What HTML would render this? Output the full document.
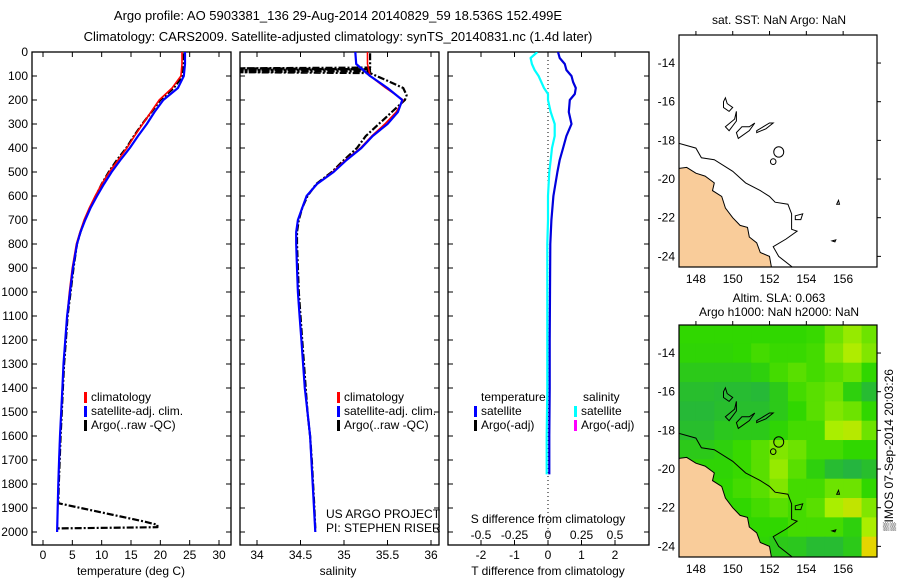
<!DOCTYPE html>
<html><head><meta charset="utf-8"><style>
html,body{margin:0;padding:0;background:#fff;width:900px;height:580px;overflow:hidden}
svg{display:block;font-family:"Liberation Sans",sans-serif;font-size:12px}
</style></head><body>
<svg id="c" width="900" height="580" xmlns="http://www.w3.org/2000/svg">
<text x="338" y="20" text-anchor="middle" font-size="13">Argo profile: AO 5903381_136 29-Aug-2014 20140829_59 18.536S 152.499E</text>
<text x="338" y="41" text-anchor="middle" font-size="13">Climatology: CARS2009. Satellite-adjusted climatology: synTS_20140831.nc (1.4d later)</text>
<text x="779" y="24" text-anchor="middle">sat. SST: NaN Argo: NaN</text>
<text x="779" y="302" text-anchor="middle">Altim. SLA: 0.063</text>
<text x="779" y="316" text-anchor="middle">Argo h1000: NaN h2000: NaN</text>
<text transform="translate(893,450) rotate(-90)" text-anchor="middle">▒IMOS 07-Sep-2014 20:03:26</text>
</svg>
<script>
// ---- data ----
const depth = [0,50,100,150,200,250,300,350,400,450,500,550,600,650,700,750,800,900,1000,1100,1200,1300,1400,1500,1600,1700,1800,1900,2000];
const tSat  = [24.2,24.2,24.0,23.0,20.5,19.0,17.7,16.2,14.8,13.2,11.7,10.4,9.2,8.1,7.2,6.4,5.8,5.1,4.6,4.1,3.8,3.5,3.3,3.1,2.9,2.75,2.6,2.5,2.4];
const tClim = [23.7,23.7,23.5,22.0,19.8,18.4,17.0,15.6,14.3,12.8,11.3,10.0,8.9,7.9,7.0,6.3,5.7,5.0,4.5,4.1,3.8,3.5,3.3,3.1,2.9,2.75,2.6,2.5,2.4];
const argoD = [5,50,100,150,200,250,300,350,400,450,500,550,600,650,700,750,800,900,1000,1100,1200,1300,1400,1500,1600,1700,1800,1880,1955,1970,1980,1985];
const tArgo = [24.0,24.0,23.8,22.3,20.0,18.5,16.9,15.5,14.2,12.6,11.2,10.0,9.0,8.0,7.1,6.4,5.8,5.2,4.7,4.2,3.9,3.6,3.4,3.2,3.0,2.85,2.7,2.6,17.0,19.5,19.5,2.5];
const sSat  = [35.13,35.14,35.3,35.5,35.67,35.62,35.5,35.33,35.2,35.03,34.88,34.69,34.57,34.52,34.47,34.45,34.45,34.46,34.47,34.49,34.51,34.53,34.55,34.58,34.61,34.625,34.64,34.655,34.67];
const sClim = [35.27,35.27,35.3,35.48,35.68,35.6,35.47,35.32,35.19,35.02,34.87,34.69,34.57,34.52,34.47,34.45,34.45,34.46,34.47,34.49,34.51,34.53,34.55,34.58,34.61,34.625,34.64,34.655,34.67];
const sArgoD = [5,65,68,72,76,80,84,88,120,150,180,200,250,300,350,400,450,500,550,600,650,700,750,800,900,1000,1100,1200,1300,1400,1500,1600,1700,1800,1900,1985];
const sArgo  = [35.3,35.3,33.8,35.3,33.8,35.3,33.8,35.3,35.5,35.68,35.72,35.7,35.55,35.4,35.25,35.15,35.0,34.86,34.68,34.58,34.52,34.48,34.46,34.46,34.47,34.48,34.5,34.52,34.54,34.56,34.58,34.61,34.63,34.645,34.66,34.67];
const diffD = [0,25,50,75,100,125,150,175,200,250,300,350,400,450,500,600,700,800,1000,1200,1400,1600,1760];
const dT = [0.3,0.35,0.5,0.55,0.7,0.75,0.83,0.8,0.65,0.62,0.7,0.55,0.45,0.35,0.28,0.16,0.1,0.07,0.06,0.05,0.05,0.04,0.04];
const dS = [-0.08,-0.13,-0.12,-0.1,-0.07,-0.05,-0.03,0,0,0.02,0.05,0.05,0.03,0.02,0.01,0,0,-0.005,-0.005,-0.005,-0.005,-0.01,-0.01];
const depthTicks = [0,100,200,300,400,500,600,700,800,900,1000,1100,1200,1300,1400,1500,1600,1700,1800,1900,2000];
const tTicks = [0,5,10,15,20,25,30];
const sTicks = [34,34.5,35,35.5,36];
const sTickLabels = ['34','34.5','35','35.5','36'];
const dTTicks = [-2,-1,0,1,2];
const dSTicks = [-0.5,-0.25,0,0.25,0.5];
const dSTickLabels = ['-0.5','-0.25','0','0.25','0.5'];
const latTicks = [-14,-16,-18,-20,-22,-24];
const lonTicks = [148,150,152,154,156];
// SLA heatmap: rows lat -12.5..-24.5 (1 deg), cols lon 147..158 (1 deg); 0=dark green, 1=yellow
const sla = [
[0.4,0.4,0.4,0.4,0.4,0.4,0.4,0.42,0.55,0.65,0.55],
[0.38,0.38,0.38,0.4,0.45,0.42,0.42,0.45,0.6,0.72,0.6],
[0.3,0.3,0.3,0.3,0.35,0.45,0.5,0.45,0.5,0.55,0.4],
[0.22,0.22,0.2,0.2,0.18,0.3,0.45,0.5,0.55,0.35,0.2],
[0.18,0.18,0.22,0.22,0.22,0.3,0.4,0.5,0.6,0.55,0.4],
[0.22,0.22,0.28,0.3,0.3,0.38,0.45,0.45,0.7,0.75,0.55],
[0.3,0.3,0.35,0.42,0.5,0.6,0.55,0.45,0.45,0.4,0.4],
[0.38,0.38,0.38,0.42,0.5,0.65,0.5,0.35,0.2,0.15,0.22],
[0.4,0.4,0.4,0.45,0.5,0.6,0.45,0.45,0.55,0.55,0.4],
[0.4,0.4,0.4,0.4,0.45,0.5,0.45,0.5,0.7,0.8,0.6],
[0.4,0.4,0.4,0.4,0.4,0.4,0.45,0.45,0.45,0.35,0.7],
[0.4,0.4,0.4,0.4,0.38,0.3,0.28,0.2,0.2,0.3,0.95]];
const land = [[147.08,-19.45],[147.5,-19.4],[148,-19.7],[148.5,-19.85],[149,-20.2],[148.9,-20.6],[149.4,-20.9],[149.6,-21.5],[150,-22],[150.4,-22.4],[150.8,-22.5],[150.9,-23],[151.3,-23.3],[151.5,-23.8],[152,-24],[152.1,-24.55],[147.08,-24.55]];
const shelf = [[147.08,-18.15],[148,-18.4],[148.3,-18.9],[149,-19],[150,-19.6],[150.7,-20.2],[151.5,-20.6],[152,-20.9],[152.3,-21.2],[153,-21.3],[153.2,-21.8],[153.2,-22.6],[153.5,-22.7],[152.9,-23.1],[152.2,-23.5],[152.5,-24],[153.3,-24.6]];
const reefs = [
[[150.2,-17.6],[150.5,-17.3],[150.9,-17.3],[151.2,-17.1],[150.9,-17.5],[150.3,-17.9]],
[[151.3,-17.5],[152,-17.1],[152.2,-17.1],[151.8,-17.4],[151.3,-17.6]],
[[149.6,-17.3],[150.1,-16.9],[150.2,-16.5],[150.2,-17],[149.8,-17.5]],
[[149.5,-16],[149.6,-15.8],[149.7,-16.1],[150,-16.3],[149.8,-16.5],[149.5,-16.3]],
[[153.4,-21.9],[153.8,-21.8],[153.7,-22.1],[153.4,-22.1]],
[[155.65,-21.3],[155.75,-21.1],[155.8,-21.3]],
[[155.4,-23.2],[155.6,-23.15],[155.55,-23.25]]];
const cays = [[152.5,-18.6,0.27],[152.2,-19.1,0.15]];

// ---- helpers ----
const NS='http://www.w3.org/2000/svg';
const svg=document.getElementById('c');
function mk(tag,attrs,parent){const e=document.createElementNS(NS,tag);for(const k in attrs)e.setAttribute(k,attrs[k]);(parent||svg).appendChild(e);return e;}
const Y0=52,Y1=545;
const yD=d=>Y0+d*0.24;
const xT=v=>43+v*5.867;
const xS=v=>257+(v-34)*87;
const xDT=v=>548+v*33.5;
const xDS=v=>548+v*134;

const defs=mk('defs',{});
[['c1',32,231],['c2',240,439],['c3',448,649]].forEach(([id,a,b])=>{const cp=mk('clipPath',{id},defs);mk('rect',{x:a,y:Y0,width:b-a,height:Y1-Y0},cp);});

function frame(x0,x1,name){
  const r=mk('rect',{x:x0,y:Y0,width:x1-x0,height:Y1-Y0,fill:'none',stroke:'#000','stroke-width':1.3});
  
  
  depthTicks.forEach(d=>{const y=yD(d);mk('line',{x1:x0,x2:x0+5,y1:y,y2:y,stroke:'#000'});mk('line',{x1:x1,x2:x1-5,y1:y,y2:y,stroke:'#000'});});
}
function xticks(vals,labels,fx,y0,y1,ly,name){
  vals.forEach((v,i)=>{const x=fx(v);
    mk('line',{x1:x,x2:x,y1:Y0,y2:Y0+5,stroke:'#000'});mk('line',{x1:x,x2:x,y1:Y1,y2:Y1-5,stroke:'#000'});
    const t=mk('text',{x:x,y:ly,'text-anchor':'middle'});t.textContent=labels[i];
    
    });
}
function line(xs,ds,fx,color,w,clip,name,dash){
  const pts=xs.map((v,i)=>fx(v).toFixed(1)+','+yD(ds[i]).toFixed(1)).join(' ');
  const a={points:pts,fill:'none',stroke:color,'stroke-width':w,'clip-path':'url(#'+clip+')','stroke-linejoin':'round'};
  if(dash)a['stroke-dasharray']=dash;
  const p=mk('polyline',a);
  
  
}
function txt(x,y,s,name,anchor){const t=mk('text',{x,y,'text-anchor':anchor||'start'});t.textContent=s;
  
  return t;}
function legend(x,y,color,label,name){mk('rect',{x:x,y:y-9,width:3,height:11,fill:color});txt(x+7,y,label,name);}

depthTicks.forEach(d=>{txt(28,yD(d)+4,String(d),'depth-tick-label','end');});

frame(32,231,'temperature-panel');
xticks(tTicks,tTicks.map(String),xT,0,0,559,'temperature-tick-label');
txt(131,575,'temperature (deg C)','temperature-axis-title','middle');
line(tArgo,argoD,xT,'#000',2.2,'c1','argo-temperature-line','7,2,2,2');
line(tClim,depth,xT,'#f00',1.6,'c1','climatology-temperature-line');
line(tSat,depth,xT,'#00f',2.2,'c1','satellite-temperature-line');
legend(84,401,'#f00','climatology','legend-climatology');
legend(84,415,'#00f','satellite-adj. clim.','legend-satellite-adj');
legend(84,429,'#000','Argo(..raw -QC)','legend-argo');

frame(240,439,'salinity-panel');
xticks(sTicks,sTickLabels,xS,0,0,559,'salinity-tick-label');
txt(338,575,'salinity','salinity-axis-title','middle');
line(sArgo,sArgoD,xS,'#000',2.2,'c2','argo-salinity-line','7,2,2,2');
line(sClim,depth,xS,'#f00',1.6,'c2','climatology-salinity-line');
line(sSat,depth,xS,'#00f',2.2,'c2','satellite-salinity-line');
legend(337,401,'#f00','climatology','legend-climatology');
legend(337,415,'#00f','satellite-adj. clim.','legend-satellite-adj');
legend(337,429,'#000','Argo(..raw -QC)','legend-argo');
txt(326,518,'US ARGO PROJECT','project-credit');
txt(326,532,'PI: STEPHEN RISER','pi-credit');

frame(448,649,'difference-panel');
mk('line',{x1:548,x2:548,y1:Y0,y2:Y1,stroke:'#000','stroke-dasharray':'1,3'});
dTTicks.forEach(v=>{const x=xDT(v);mk('line',{x1:x,x2:x,y1:Y0,y2:Y0+5,stroke:'#000'});mk('line',{x1:x,x2:x,y1:Y1,y2:Y1-5,stroke:'#000'});txt(x,559,String(v),'t-diff-tick-label','middle');});
dSTicks.forEach((v,i)=>{txt(xDS(v),539,dSTickLabels[i],'s-diff-tick-label','middle');});
txt(548,523,'S difference from climatology','s-diff-axis-title','middle');
txt(548,575,'T difference from climatology','t-diff-axis-title','middle');
line(dS,diffD,xDS,'#0ff',2.2,'c3','salinity-satellite-diff-line');
line(dT,diffD,xDT,'#00d',2.2,'c3','temperature-satellite-diff-line');
txt(481,401,'temperature','legend-temperature-header');
txt(583,401,'salinity','legend-salinity-header');
legend(474,415,'#00f','satellite','legend-t-satellite');
legend(474,429,'#000','Argo(-adj)','legend-t-argo');
legend(574,415,'#0ff','satellite','legend-s-satellite');
legend(574,429,'#f0f','Argo(-adj)','legend-s-argo');

const MX0=679,MX1=877,LON0=147.08,LON1=157.84,LAT0=-12.55,LAT1=-24.55;
function makeMap(y0,y1,heat,name){
  const fx=l=>MX0+(l-LON0)*(MX1-MX0)/(LON1-LON0);
  const fy=l=>y0+(LAT0-l)*(y1-y0)/(LAT0-LAT1);
  const id='m'+y0;const cp=mk('clipPath',{id},defs);mk('rect',{x:MX0,y:y0,width:MX1-MX0,height:y1-y0},cp);
  const g=mk('g',{'clip-path':'url(#'+id+')'});
  
  
  if(heat){
    const stops=[[0,[30,160,100]],[0.4,[48,215,0]],[0.7,[170,238,0]],[1,[240,208,0]]];
    const col=v=>{for(let i=1;i<stops.length;i++){if(v<=stops[i][0]){const a=stops[i-1],b=stops[i],t=(v-a[0])/(b[0]-a[0]);return 'rgb('+a[1].map((c,k)=>Math.round(c+(b[1][k]-c)*t)).join(',')+')';}}return 'rgb(240,208,0)';};
    heat.forEach((row,r)=>row.forEach((v,c)=>{const x=fx(147+c),x2=fx(148+c),y=fy(-12.5-r),yy=fy(-13.5-r);
      const cell=mk('rect',{x:x,y:y,width:x2-x+0.5,height:yy-y+0.5,fill:col(v)},g);
      
      }));
  }
  const P=a=>a.map(p=>fx(p[0]).toFixed(1)+','+fy(p[1]).toFixed(1)).join(' ');
  const ld=mk('polygon',{points:P(land),fill:'#f9cc9a',stroke:'#000','stroke-width':1},g);
  
  
  const sh=mk('polyline',{points:P(shelf),fill:'none',stroke:'#000','stroke-width':1},g);
  
  
  reefs.forEach(r=>{const p=mk('polygon',{points:P(r),fill:'none',stroke:'#000','stroke-width':1},g);
    
    });
  cays.forEach(c=>{const e=mk('ellipse',{cx:fx(c[0]),cy:fy(c[1]),rx:c[2]*18.4,ry:c[2]*19.3,fill:'none',stroke:'#000'},g);
    
    });
  mk('rect',{x:MX0,y:y0,width:MX1-MX0,height:y1-y0,fill:'none',stroke:'#000','stroke-width':1.2});
  latTicks.forEach(l=>{const y=fy(l);mk('line',{x1:MX1,x2:MX1+4,y1:y,y2:y,stroke:'#000'});txt(MX0-4,y+4,String(l),'lat-tick-label','end');});
  lonTicks.forEach(l=>{const x=fx(l);mk('line',{x1:x,x2:x,y1:y0,y2:y0-4,stroke:'#000'});txt(x,y1+16,String(l),'lon-tick-label','middle');});
}
makeMap(35,267,null,'sst-map');
makeMap(325,557,sla,'sla-map');
</script>
</body></html>
